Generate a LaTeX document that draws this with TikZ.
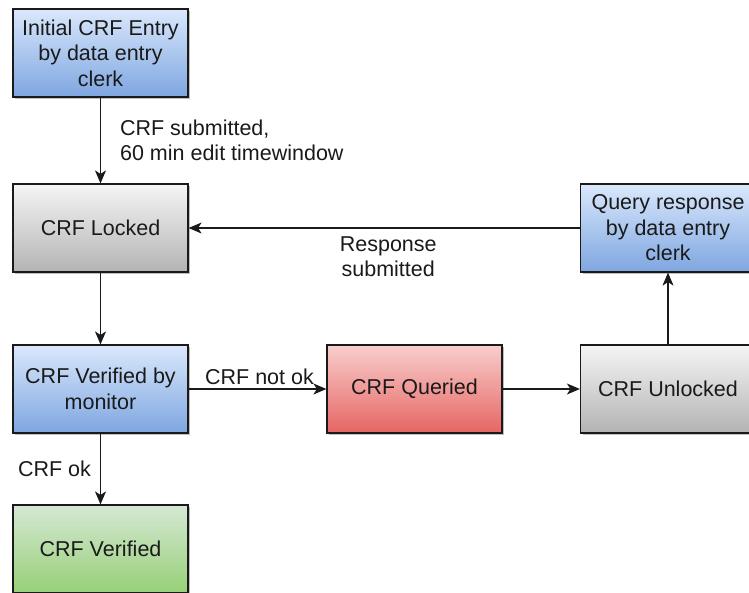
\documentclass[tikz,border=0pt]{standalone}
\usepackage{fontspec}
\setmainfont{Liberation Sans}
\usetikzlibrary{arrows.meta,shadows}

% draw.io style gradient fills
\definecolor{blueTop}{HTML}{DAE8FC}
\definecolor{blueBot}{HTML}{7EA6E0}
\definecolor{grayTop}{HTML}{F5F5F5}
\definecolor{grayBot}{HTML}{B3B3B3}
\definecolor{redTop}{HTML}{F8CECC}
\definecolor{redBot}{HTML}{E66563}
\definecolor{greenTop}{HTML}{D5E8D4}
\definecolor{greenBot}{HTML}{97D077}
\definecolor{ink}{HTML}{1A1A1A}

\tikzset{
  box/.style={rectangle, draw=ink, line width=1.2pt,
    minimum width=175pt, minimum height=88pt, inner sep=2pt,
    align=center, text=ink,
    font=\fontsize{21.5}{25.5}\selectfont,
    drop shadow={shadow xshift=2pt, shadow yshift=-2pt, opacity=0.25, fill=black}},
  bluebox/.style={box, top color=blueTop, bottom color=blueBot},
  graybox/.style={box, top color=grayTop, bottom color=grayBot},
  redbox/.style={box, top color=redTop, bottom color=redBot},
  greenbox/.style={box, top color=greenTop, bottom color=greenBot},
  flow/.style={draw=ink, line width=1.2pt, -{Stealth[length=13pt,width=11pt,inset=3.5pt]}},
  lbl/.style={inner sep=0pt, text=ink, font=\fontsize{21.5}{25}\selectfont}
}

\begin{document}
\begin{tikzpicture}[x=1pt,y=-1pt]
  \useasboundingbox (0,0) rectangle (749,592);

  % states
  \node[bluebox]  (init)     at (100.5,53)  {Initial CRF Entry\\by data entry\\clerk};
  \node[graybox]  (locked)   at (100.5,228) {CRF Locked};
  \node[bluebox]  (query)    at (668,228)   {Query response\\by data entry\\clerk};
  \node[bluebox]  (verif)    at (100.5,389) {CRF Verified by\\monitor};
  \node[redbox]   (queried)  at (414.5,389) {CRF Queried};
  \node[graybox]  (unlocked) at (668,389)   {CRF Unlocked};
  \node[greenbox] (verified) at (100.5,549) {CRF Verified};

  % transitions
  \draw[flow] (init) -- node[lbl, anchor=west, xshift=19pt, align=left]
      {CRF submitted,\\60 min edit timewindow} (locked);
  \draw[flow] (locked) -- (verif);
  \draw[flow] (verif) -- node[lbl, anchor=south, xshift=2pt, yshift=4pt] {CRF not ok} (queried);
  \draw[flow] (queried) -- (unlocked);
  \draw[flow] (unlocked) -- (query);
  \draw[flow] (query) -- node[lbl, anchor=north, xshift=4pt, yshift=-8pt, align=center]
      {Response\\submitted} (locked);
  \draw[flow] (verif) -- node[lbl, anchor=east, xshift=-9pt] {CRF ok} (verified);
\end{tikzpicture}
\end{document}
